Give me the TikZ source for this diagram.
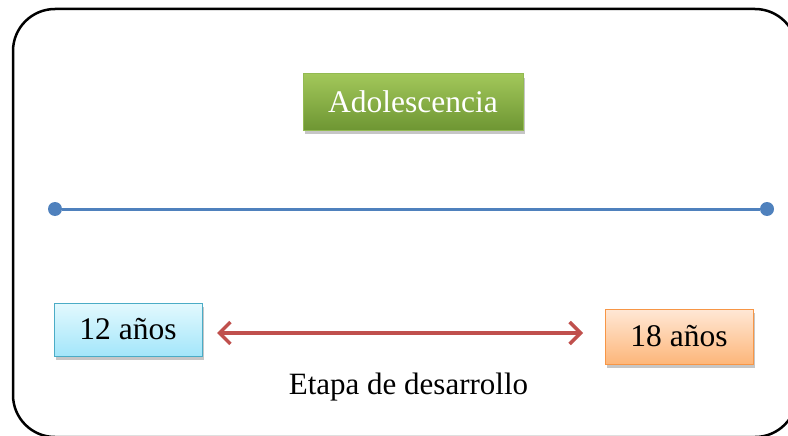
\documentclass[tikz,border=0pt]{standalone}
\usepackage{fontspec}
\setmainfont{Liberation Serif}
\usepackage{tikz}
\usetikzlibrary{arrows.meta,shadows}

\definecolor{azul}{HTML}{4F81BD}
\definecolor{rojo}{HTML}{C0504D}
\definecolor{verdeA}{HTML}{A2C75A}
\definecolor{verdeB}{HTML}{6E9633}
\definecolor{verdeC}{HTML}{93BA52}
\definecolor{cianA}{HTML}{E3F9FE}
\definecolor{cianB}{HTML}{A3E6FA}
\definecolor{cianC}{HTML}{4BACC6}
\definecolor{naranjaA}{HTML}{FFE8D6}
\definecolor{naranjaB}{HTML}{FDB67A}
\definecolor{naranjaC}{HTML}{F79646}

\begin{document}
\begin{tikzpicture}[x=1pt, y=-1pt,
	caja/.style = {draw, line width=1pt, inner sep=0pt, font=\fontsize{31.5}{36}\selectfont,
	               drop shadow={opacity=0.45, shadow xshift=2pt, shadow yshift=-4pt}},
	punto/.style = {circle, fill=azul, inner sep=0pt, minimum size=14pt},
	flecha/.style = {rojo, line width=3.5pt, {Straight Barb[length=11pt,width=22pt]}-{Straight Barb[length=11pt,width=22pt]}}
]
\useasboundingbox (0,0) rectangle (788,436);
% marco
\draw[line width=2.5pt, rounded corners=42pt] (13,9) rectangle (797,437);

\node[caja, draw=verdeC, top color=verdeA, bottom color=verdeB, text=white,
      minimum width=220pt, minimum height=56pt] (ado) at (413,102) {Adolescencia};

% linea del tiempo
\node[punto] (ini) at (55,209) {};
\node[punto] (fin) at (767,209) {};
\draw[azul, line width=3pt] (ini) -- (fin);

\node[caja, draw=cianC, top color=cianA, bottom color=cianB,
      minimum width=148pt, minimum height=53pt] (doce) at (128,329.5) {12 años};
\node[caja, draw=naranjaC, top color=naranjaA, bottom color=naranjaB,
      minimum width=148pt, minimum height=55pt] (dieciocho) at (679,336.5) {18 años};

\coordinate (izq) at (217,333);
\coordinate (der) at (583,333);
\draw[flecha] (izq) -- (der);

\node[font=\fontsize{31}{36}\selectfont] (etapa) at (408.5,387) {Etapa de desarrollo};
\end{tikzpicture}
\end{document}
